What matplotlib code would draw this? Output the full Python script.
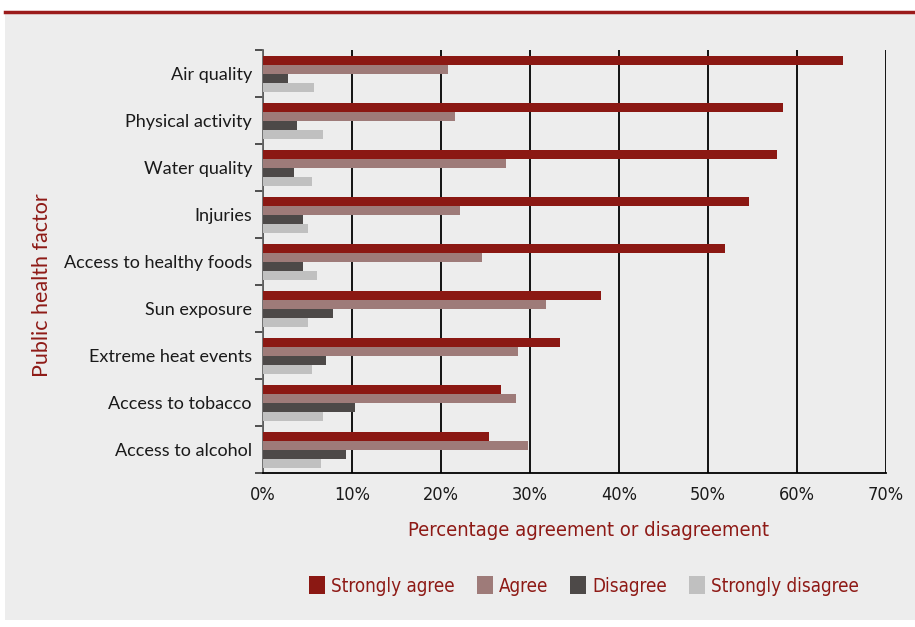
import matplotlib
matplotlib.use("Agg")
import matplotlib.pyplot as plt
from matplotlib.patches import Rectangle
from matplotlib.lines import Line2D
import numpy as np

categories = ["Air quality", "Physical activity", "Water quality", "Injuries",
              "Access to healthy foods", "Sun exposure", "Extreme heat events",
              "Access to tobacco", "Access to alcohol"]
strongly_agree = [65.2, 58.4, 57.8, 54.6, 51.9, 38.0, 33.4, 26.7, 25.4]
agree = [20.8, 21.6, 27.3, 22.1, 24.6, 31.8, 28.7, 28.4, 29.8]
disagree = [2.8, 3.8, 3.5, 4.5, 4.5, 7.9, 7.1, 10.3, 9.3]
strongly_disagree = [5.7, 6.7, 5.5, 5.1, 6.1, 5.1, 5.5, 6.7, 6.5]
series_names = ["Strongly agree", "Agree", "Disagree", "Strongly disagree"]
x_ticks = [0, 10, 20, 30, 40, 50, 60, 70]

colors = ["#8B1813", "#9E7B79", "#4D4948", "#C0C0C0"]
dark_red = "#8E1A16"
panel_bg = "#EDEDED"

narrow = dict(family="DejaVu Sans", stretch="condensed")
label_font = ["Lato", "DejaVu Sans"]

fig = plt.figure(figsize=(9.15, 6.27), dpi=100, facecolor="white")

# grey panel with a red rule on top
fig.patches.append(Rectangle((5 / 915, 1 - 620 / 627), 910 / 915, 607 / 627,
                             transform=fig.transFigure, facecolor=panel_bg,
                             edgecolor="none", zorder=-5))
fig.lines.append(Line2D([5 / 915, 1.0], [1 - 11.5 / 627, 1 - 11.5 / 627],
                        transform=fig.transFigure, color="#9B1B1B", lw=2.5))

ax = fig.add_axes([263 / 915, 1 - 473 / 627, 623 / 915, 423 / 627])
ax.set_zorder(2)
ax.set_facecolor(panel_bg)

y = np.arange(len(categories))
h = 0.19
offsets = [-0.27, -0.08, 0.11, 0.30]
for vals, off, col in zip([strongly_agree, agree, disagree, strongly_disagree],
                          offsets, colors):
    ax.barh(y + off, vals, height=h, color=col, zorder=3)

ax.set_xlim(0, 70)
ax.set_ylim(len(categories) - 0.5, -0.5)
ax.set_xticks(x_ticks)
ax.set_xticklabels([f"{t}%" for t in x_ticks], fontsize=13, color="#1a1a1a",
                   **narrow)
ax.tick_params(axis="x", length=0, pad=9)
ax.set_yticks(y)
ax.set_yticklabels(categories, fontsize=13, family=label_font, color="#1a1a1a")
ax.tick_params(axis="y", length=0, pad=8)
ax.set_yticks(np.arange(len(categories) + 1) - 0.5, minor=True)
ax.tick_params(axis="y", which="minor", length=6, width=1.2, color="#333333")

ax.grid(axis="x", color="black", lw=1.3, zorder=1)
for s in ["top", "right"]:
    ax.spines[s].set_visible(False)
ax.spines["left"].set_color("#666666")
ax.spines["left"].set_linewidth(1.3)
ax.spines["bottom"].set_color("black")
ax.spines["bottom"].set_linewidth(1.3)

fig.text(589 / 915, 1 - 531 / 627, "Percentage agreement or disagreement",
         ha="center", va="center", fontsize=14.5, color=dark_red, **narrow)
fig.text(42 / 915, 1 - 285 / 627, "Public health factor", rotation=90,
         ha="center", va="center", fontsize=15.5, family=label_font, color=dark_red)

handles = [Rectangle((0, 0), 1, 1, facecolor=c, edgecolor="none") for c in colors]
leg = fig.legend(handles, series_names, loc="center",
                 bbox_to_anchor=(584 / 915, 1 - 586 / 627), ncol=4,
                 frameon=False, handlelength=0.85, handleheight=1.1,
                 handletextpad=0.3, columnspacing=1.2,
                 prop={"family": "DejaVu Sans", "stretch": "condensed", "size": 13.5})
for t in leg.get_texts():
    t.set_color(dark_red)

fig.savefig("out.png", dpi=100, facecolor="white")
